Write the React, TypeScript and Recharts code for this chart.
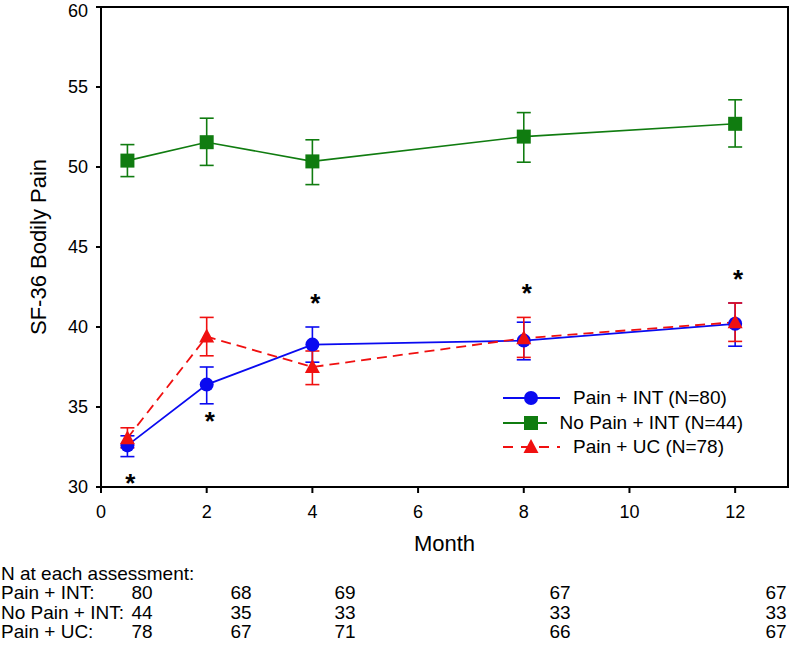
import {
  ComposedChart,
  Line,
  Scatter,
  XAxis,
  YAxis,
  ErrorBar,
  ReferenceArea,
  Legend,
} from 'recharts'

const months = [0.5, 2, 4, 8, 12]

// mean and lower / upper limits of the error bars
const painInt = [32.6, 36.4, 38.9, 39.15, 40.2]
const painIntLow = [31.9, 35.2, 37.8, 37.95, 38.8]
const painIntHigh = [33.2, 37.5, 40.0, 40.3, 41.5]

const noPainInt = [50.4, 51.55, 50.35, 51.9, 52.7]
const noPainIntLow = [49.4, 50.1, 48.9, 50.3, 51.25]
const noPainIntHigh = [51.4, 53.05, 51.7, 53.4, 54.2]

const painUC = [33.05, 39.4, 37.5, 39.3, 40.3]
const painUCLow = [32.45, 38.2, 36.4, 38.1, 39.1]
const painUCHigh = [33.7, 40.6, 38.5, 40.6, 41.5]

// significance markers
const starMonths = [0.5, 2, 4, 8, 12]
const starY = [30.6, 34.5, 41.9, 42.5, 43.4]

const xTicks = [0, 2, 4, 6, 8, 10, 12]
const yTicks = [30, 35, 40, 45, 50, 55, 60]

const seriesNames = ['Pain + INT (N=80)', 'No Pain + INT (N=44)', 'Pain + UC (N=78)']

// N at each assessment
const nTitle = 'N at each assessment:'
const nLabels = ['Pain + INT:', 'No Pain + INT:', 'Pain + UC:']
const nPainInt = [80, 68, 69, 67, 67]
const nNoPainInt = [44, 35, 33, 33, 33]
const nPainUC = [78, 67, 71, 66, 67]

const BLUE = '#0a0af0'
const GREEN = '#107c10'
const RED = '#f01010'
const FONT = '"Liberation Sans", Arial, sans-serif'

const data = months.map((m, i) => ({
  month: m,
  painInt: painInt[i],
  painIntErr: [painInt[i] - painIntLow[i], painIntHigh[i] - painInt[i]],
  noPainInt: noPainInt[i],
  noPainIntErr: [noPainInt[i] - noPainIntLow[i], noPainIntHigh[i] - noPainInt[i]],
  painUC: painUC[i],
  painUCErr: [painUC[i] - painUCLow[i], painUCHigh[i] - painUC[i]],
}))

const stars = starMonths.map((m, i) => ({ month: m, star: starY[i] }))

const nRows = [nPainInt, nNoPainInt, nPainUC]
const nColX = [142, 241, 345, 560, 776]

function CircleDot(p: any) {
  if (p.cx == null || p.cy == null) return null
  return <circle cx={p.cx} cy={p.cy} r={7} fill={BLUE} />
}

function SquareDot(p: any) {
  if (p.cx == null || p.cy == null) return null
  return <rect x={p.cx - 7} y={p.cy - 7} width={14} height={14} fill={GREEN} />
}

function TriangleDot(p: any) {
  if (p.cx == null || p.cy == null) return null
  const { cx, cy } = p
  return <path d={`M${cx},${cy - 8} L${cx + 7.5},${cy + 6} L${cx - 7.5},${cy + 6} Z`} fill={RED} />
}

function StarShape(p: any) {
  if (p.cx == null || p.cy == null) return null
  return (
    <text x={p.cx + 3} y={p.cy + 15} textAnchor="middle" fontSize={26} fontWeight="bold" fontFamily={FONT} fill="#000">
      *
    </text>
  )
}

function LegendBox() {
  const rows = [
    { name: seriesNames[0], color: BLUE, dash: undefined, marker: <circle cx={28} cy={12} r={7} fill={BLUE} /> },
    { name: seriesNames[1], color: GREEN, dash: undefined, marker: <rect x={21} y={5} width={14} height={14} fill={GREEN} /> },
    { name: seriesNames[2], color: RED, dash: '10 8', marker: <path d="M28,4 L35.5,18 L20.5,18 Z" fill={RED} /> },
  ]
  return (
    <div style={{ fontFamily: FONT, fontSize: 19, color: '#000' }}>
      {rows.map((r) => (
        <div key={r.name} style={{ display: 'flex', alignItems: 'center', height: 24.5 }}>
          <svg width={57} height={24} style={{ display: 'block' }}>
            <line x1={0} y1={12} x2={57} y2={12} stroke={r.color} strokeWidth={2} strokeDasharray={r.dash} />
            {r.marker}
          </svg>
          <span style={{ marginLeft: 13, whiteSpace: 'nowrap' }}>{r.name}</span>
        </div>
      ))}
    </div>
  )
}

export default function App() {
  return (
    <div style={{ position: 'absolute', left: 0, top: 0, width: 791, height: 646, fontFamily: FONT, background: '#fff' }}>
      <ComposedChart width={791} height={646} data={data} margin={{ top: 7, right: 3, bottom: 89, left: 0 }}>
        <XAxis
          dataKey="month"
          type="number"
          domain={[0, 13]}
          ticks={xTicks}
          height={70}
          stroke="#000"
          strokeWidth={2}
          tickSize={6}
          tickMargin={12}
          tick={{ fill: '#000', fontSize: 18, fontFamily: FONT }}
          label={{ value: 'Month', position: 'insideBottom', offset: 6, fill: '#000', fontSize: 22, fontFamily: FONT }}
        />
        <YAxis
          type="number"
          domain={[30, 60]}
          ticks={yTicks}
          width={101}
          stroke="#000"
          strokeWidth={2}
          tickSize={5}
          tickMargin={8}
          tick={{ fill: '#000', fontSize: 18, fontFamily: FONT }}
          label={{
            value: 'SF-36 Bodily Pain',
            angle: -90,
            position: 'insideLeft',
            offset: 38,
            style: { textAnchor: 'middle' },
            fill: '#000',
            fontSize: 22,
            fontFamily: FONT,
          }}
        />
        <ReferenceArea x1={0} x2={13} y1={30} y2={60} fill="none" stroke="#000" strokeWidth={2} />
        <Line
          dataKey="noPainInt"
          stroke={GREEN}
          strokeWidth={1.6}
          dot={SquareDot}
          activeDot={false}
          isAnimationActive={false}
        >
          <ErrorBar dataKey="noPainIntErr" direction="y" width={7} stroke={GREEN} strokeWidth={1.6} />
        </Line>
        <Line
          dataKey="painInt"
          stroke={BLUE}
          strokeWidth={1.8}
          dot={CircleDot}
          activeDot={false}
          isAnimationActive={false}
        >
          <ErrorBar dataKey="painIntErr" direction="y" width={7} stroke={BLUE} strokeWidth={1.6} />
        </Line>
        <Line
          dataKey="painUC"
          stroke={RED}
          strokeWidth={1.8}
          strokeDasharray="10 6"
          dot={TriangleDot}
          activeDot={false}
          isAnimationActive={false}
        >
          <ErrorBar dataKey="painUCErr" direction="y" width={7} stroke={RED} strokeWidth={1.6} />
        </Line>
        <Scatter data={stars} dataKey="star" shape={StarShape} isAnimationActive={false} />
        <Legend
          layout="vertical"
          align="center"
          verticalAlign="middle"
          content={() => <LegendBox />}
          wrapperStyle={{ left: 503, top: 386, width: 240 }}
        />
      </ComposedChart>

      <div style={{ position: 'absolute', left: 1, top: 564, fontSize: 19, lineHeight: '20px', whiteSpace: 'nowrap' }}>
        {nTitle}
      </div>
      {nLabels.map((label, r) => (
        <div key={label}>
          <div
            style={{ position: 'absolute', left: 1, top: 583 + r * 19.7, fontSize: 19, lineHeight: '20px', whiteSpace: 'nowrap' }}
          >
            {label}
          </div>
          {nRows[r].map((n, c) => (
            <div
              key={c}
              style={{
                position: 'absolute',
                left: nColX[c] - 30,
                width: 60,
                textAlign: 'center',
                top: 583 + r * 19.7,
                fontSize: 19,
                lineHeight: '20px',
              }}
            >
              {n}
            </div>
          ))}
        </div>
      ))}
    </div>
  )
}
